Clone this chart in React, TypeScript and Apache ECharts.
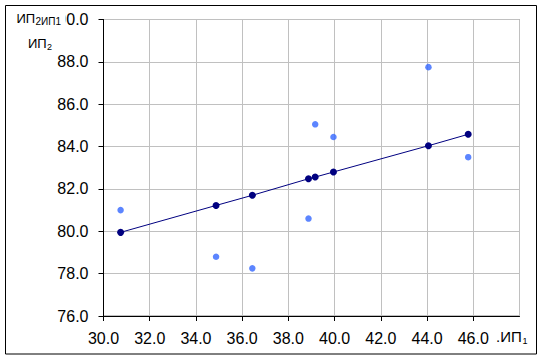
import React, { useEffect, useRef } from "react";
import * as echarts from "echarts";

const xValues = [30.74, 34.87, 36.44, 38.87, 39.16, 39.95, 44.06, 45.78];
const observedY = [81.0, 78.8, 78.25, 80.6, 85.05, 84.45, 87.75, 83.5];
const fittedY = [79.95, 81.22, 81.7, 82.48, 82.56, 82.8, 84.04, 84.58];

const FONT = "'Liberation Sans', Arial, sans-serif";

export default function App() {
  const ref = useRef<HTMLDivElement>(null);
  useEffect(() => {
    document.body.style.margin = "0";
    if (!ref.current) return;
    const chart = echarts.init(ref.current, undefined, { renderer: "svg" });
    const observed = xValues.map((x, i) => [x, observedY[i]]);
    const fitted = xValues.map((x, i) => [x, fittedY[i]]);
    chart.setOption({
      animation: false,
      backgroundColor: "#ffffff",
      grid: {
        left: 103.5,
        right: 25.5,
        top: 19.5,
        bottom: 43,
        show: true,
        borderColor: "#808080",
        borderWidth: 1,
        outerBoundsMode: "none",
      },
      xAxis: {
        type: "value",
        min: 30,
        max: 48,
        interval: 2,
        axisLine: { show: true, onZero: false, lineStyle: { color: "#000", width: 1 } },
        axisTick: { show: true, inside: false, length: 5, lineStyle: { color: "#000" } },
        splitLine: { show: true, lineStyle: { color: "#c0c0c0", width: 1 } },
        axisLabel: {
          showMaxLabel: false,
          margin: 14,
          color: "#000",
          fontFamily: FONT,
          fontSize: 16,
          formatter: (v: number) => v.toFixed(1),
        },
      },
      yAxis: {
        type: "value",
        min: 76,
        max: 90,
        interval: 2,
        axisLine: { show: true, onZero: false, lineStyle: { color: "#000", width: 1 } },
        axisTick: { show: true, inside: false, length: 5, lineStyle: { color: "#000" } },
        splitLine: { show: true, lineStyle: { color: "#c0c0c0", width: 1 } },
        axisLabel: {
          margin: 15,
          color: "#000",
          fontFamily: FONT,
          fontSize: 16,
          formatter: (v: number) => v.toFixed(1),
        },
      },
      series: [
        {
          type: "scatter",
          data: observed,
          symbol: "circle",
          symbolSize: 6.5,
          itemStyle: { color: "#3366ff" },
          z: 3,
        },
        {
          type: "line",
          data: fitted,
          symbol: "circle",
          symbolSize: 7,
          showSymbol: true,
          lineStyle: { color: "#000080", width: 1 },
          itemStyle: { color: "#000080" },
          z: 4,
        },
      ],
      graphic: [
        {
          type: "rect",
          shape: { x: 5.5, y: 5.5, width: 531, height: 348.5 },
          style: { fill: "none", stroke: "#000", lineWidth: 1 },
          silent: true,
          z: 100,
        },
        {
          type: "rect",
          shape: { x: 14, y: 8, width: 51.5, height: 20 },
          style: { fill: "#fff" },
          z: 101,
        },
        {
          type: "text",
          x: 16.5,
          y: 18,
          style: { text: "ИП", fontFamily: FONT, fontSize: 13, fill: "#000", textVerticalAlign: "middle" },
          z: 102,
        },
        {
          type: "text",
          x: 35.5,
          y: 21.5,
          style: { text: "2ИП1", fontFamily: FONT, fontSize: 10, fill: "#000", textVerticalAlign: "middle" },
          z: 102,
        },
        {
          type: "text",
          x: 28,
          y: 43,
          style: { text: "ИП", fontFamily: FONT, fontSize: 13, fill: "#000", textVerticalAlign: "middle" },
          z: 102,
        },
        {
          type: "text",
          x: 47,
          y: 47,
          style: { text: "2", fontFamily: FONT, fontSize: 9, fill: "#000", textVerticalAlign: "middle" },
          z: 102,
        },
        {
          type: "text",
          x: 496,
          y: 336,
          style: { text: ".ИП", fontFamily: FONT, fontSize: 15, fill: "#000", textVerticalAlign: "middle" },
          z: 102,
        },
        {
          type: "text",
          x: 522.5,
          y: 341,
          style: { text: "1", fontFamily: FONT, fontSize: 9, fill: "#000", textVerticalAlign: "middle" },
          z: 102,
        },
      ],
    });
    return () => chart.dispose();
  }, []);
  return <div ref={ref} style={{ width: 545, height: 359 }} />;
}
